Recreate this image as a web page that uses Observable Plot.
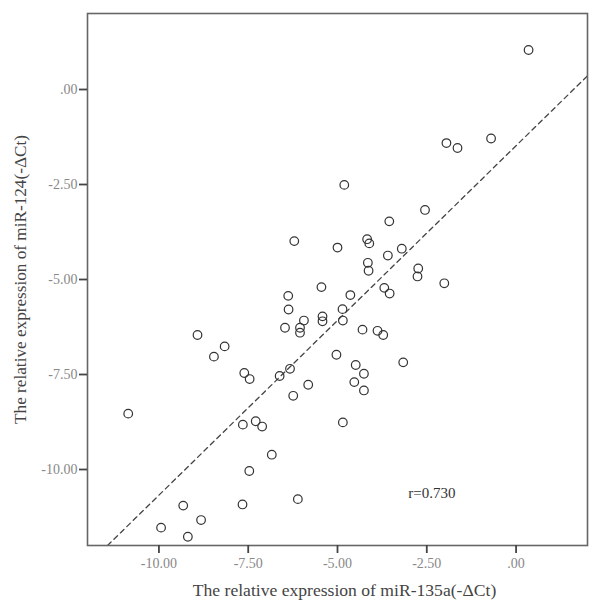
<!DOCTYPE html>
<html>
<head>
<meta charset="utf-8">
<script src="https://cdn.jsdelivr.net/npm/d3@7"></script>
<script src="https://cdn.jsdelivr.net/npm/@observablehq/plot@0.6"></script>
<style>
  html, body { margin: 0; padding: 0; background: #fff; }
  #chart { width: 600px; height: 612px; }
</style>
</head>
<body>
<div id="chart"></div>
<script>
// miR-135a (-ΔCt), x values
const mir135a = [
  0.35, -1.95, -1.64, -0.70, -4.81, -2.55, -3.55, -6.21, -5.00, -4.17,
  -4.11, -3.20, -3.59, -4.15, -4.13, -2.74, -2.76, -2.01, -5.45, -4.64,
  -6.38, -3.69, -3.54, -6.37, -4.86, -5.94, -5.42, -5.42, -4.85, -6.47,
  -6.05, -6.05, -4.30, -3.88, -3.72, -5.03, -4.49, -4.26, -4.53, -4.26,
  -3.16, -5.82, -6.24, -6.33, -6.62, -7.61, -7.46, -8.92, -8.16, -8.46,
  -10.86, -7.65, -7.29, -7.11, -6.84, -7.47, -4.85, -6.11, -9.32, -7.66,
  -8.82, -9.94, -9.19
];
// miR-124 (-ΔCt), y values
const mir124 = [
  1.04, -1.41, -1.54, -1.29, -2.51, -3.17, -3.47, -3.99, -4.16, -3.94,
  -4.05, -4.19, -4.37, -4.56, -4.77, -4.71, -4.92, -5.10, -5.20, -5.41,
  -5.43, -5.22, -5.37, -5.79, -5.78, -6.08, -5.97, -6.10, -6.08, -6.27,
  -6.27, -6.40, -6.32, -6.35, -6.46, -6.98, -7.25, -7.48, -7.70, -7.92,
  -7.18, -7.77, -8.06, -7.35, -7.54, -7.46, -7.62, -6.46, -6.76, -7.03,
  -8.53, -8.82, -8.73, -8.87, -9.61, -10.04, -8.76, -10.78, -10.95, -10.92,
  -11.33, -11.53, -11.77
];
// fit line end points
const fitX = [-11.44, 2.0];
const fitY = [-12.0, 0.36];
// tick values
const xTicks = [-10, -7.5, -5, -2.5, 0];
const yTicks = [0, -2.5, -5, -7.5, -10];
// annotation
const rLabel = ["r=0.730"];
const rPos = [-2.36, -10.62];
const xLabel = "The relative expression of miR-135a(-\u0394Ct)";
const yLabel = "The relative expression of miR-124(-\u0394Ct)";

const points = mir135a.map((x, i) => ({x, y: mir124[i]}));
const fit = fitX.map((x, i) => ({x, y: fitY[i]}));
const fmt = d => d === 0 ? ".00" : d.toFixed(2);
const blank = () => "";
const serif = "'Liberation Serif', 'Times New Roman', serif";

const chart = Plot.plot({
  width: 600,
  height: 612,
  marginLeft: 87,
  marginRight: 13,
  marginTop: 13,
  marginBottom: 67,
  style: {fontFamily: serif, background: "#fff"},
  x: {domain: [-12, 2], label: null},
  y: {domain: [-12, 2], label: null},
  marks: [
    Plot.line(fit, {x: "x", y: "y", stroke: "#444", strokeWidth: 1.3, strokeDasharray: "5,4", clip: true}),
    Plot.dot(points, {x: "x", y: "y", r: 4.3, stroke: "#333", strokeWidth: 1.2, fill: "none"}),
    Plot.text(rLabel, {x: () => rPos[0], y: () => rPos[1], text: d => d, fontSize: 15, fill: "#333", fontFamily: serif}),
    Plot.frame({stroke: "#666", strokeWidth: 1.6}),
    Plot.axisX({ticks: xTicks, tickFormat: blank, tickSize: 8, color: "#444", strokeWidth: 1.8, label: null}),
    Plot.axisX({ticks: xTicks, tickFormat: fmt, tickSize: 0, tickPadding: 13, color: "#888", fontSize: 14, label: null}),
    Plot.axisY({ticks: yTicks, tickFormat: blank, tickSize: 8, color: "#444", strokeWidth: 1.8, label: null}),
    Plot.axisY({ticks: yTicks, tickFormat: fmt, tickSize: 0, tickPadding: 10, color: "#888", fontSize: 14, label: null}),
    Plot.text([xLabel], {frameAnchor: "bottom", textAnchor: "middle", lineAnchor: "middle", text: d => d, dx: 7, dy: 45, fontSize: 17.6, fill: "#444", fontFamily: serif}),
    Plot.text([yLabel], {frameAnchor: "left", textAnchor: "middle", lineAnchor: "middle", text: d => d, dx: -67, rotate: -90, fontSize: 17.2, fill: "#444", fontFamily: serif})
  ]
});
document.getElementById("chart").appendChild(chart);
</script>
</body>
</html>
